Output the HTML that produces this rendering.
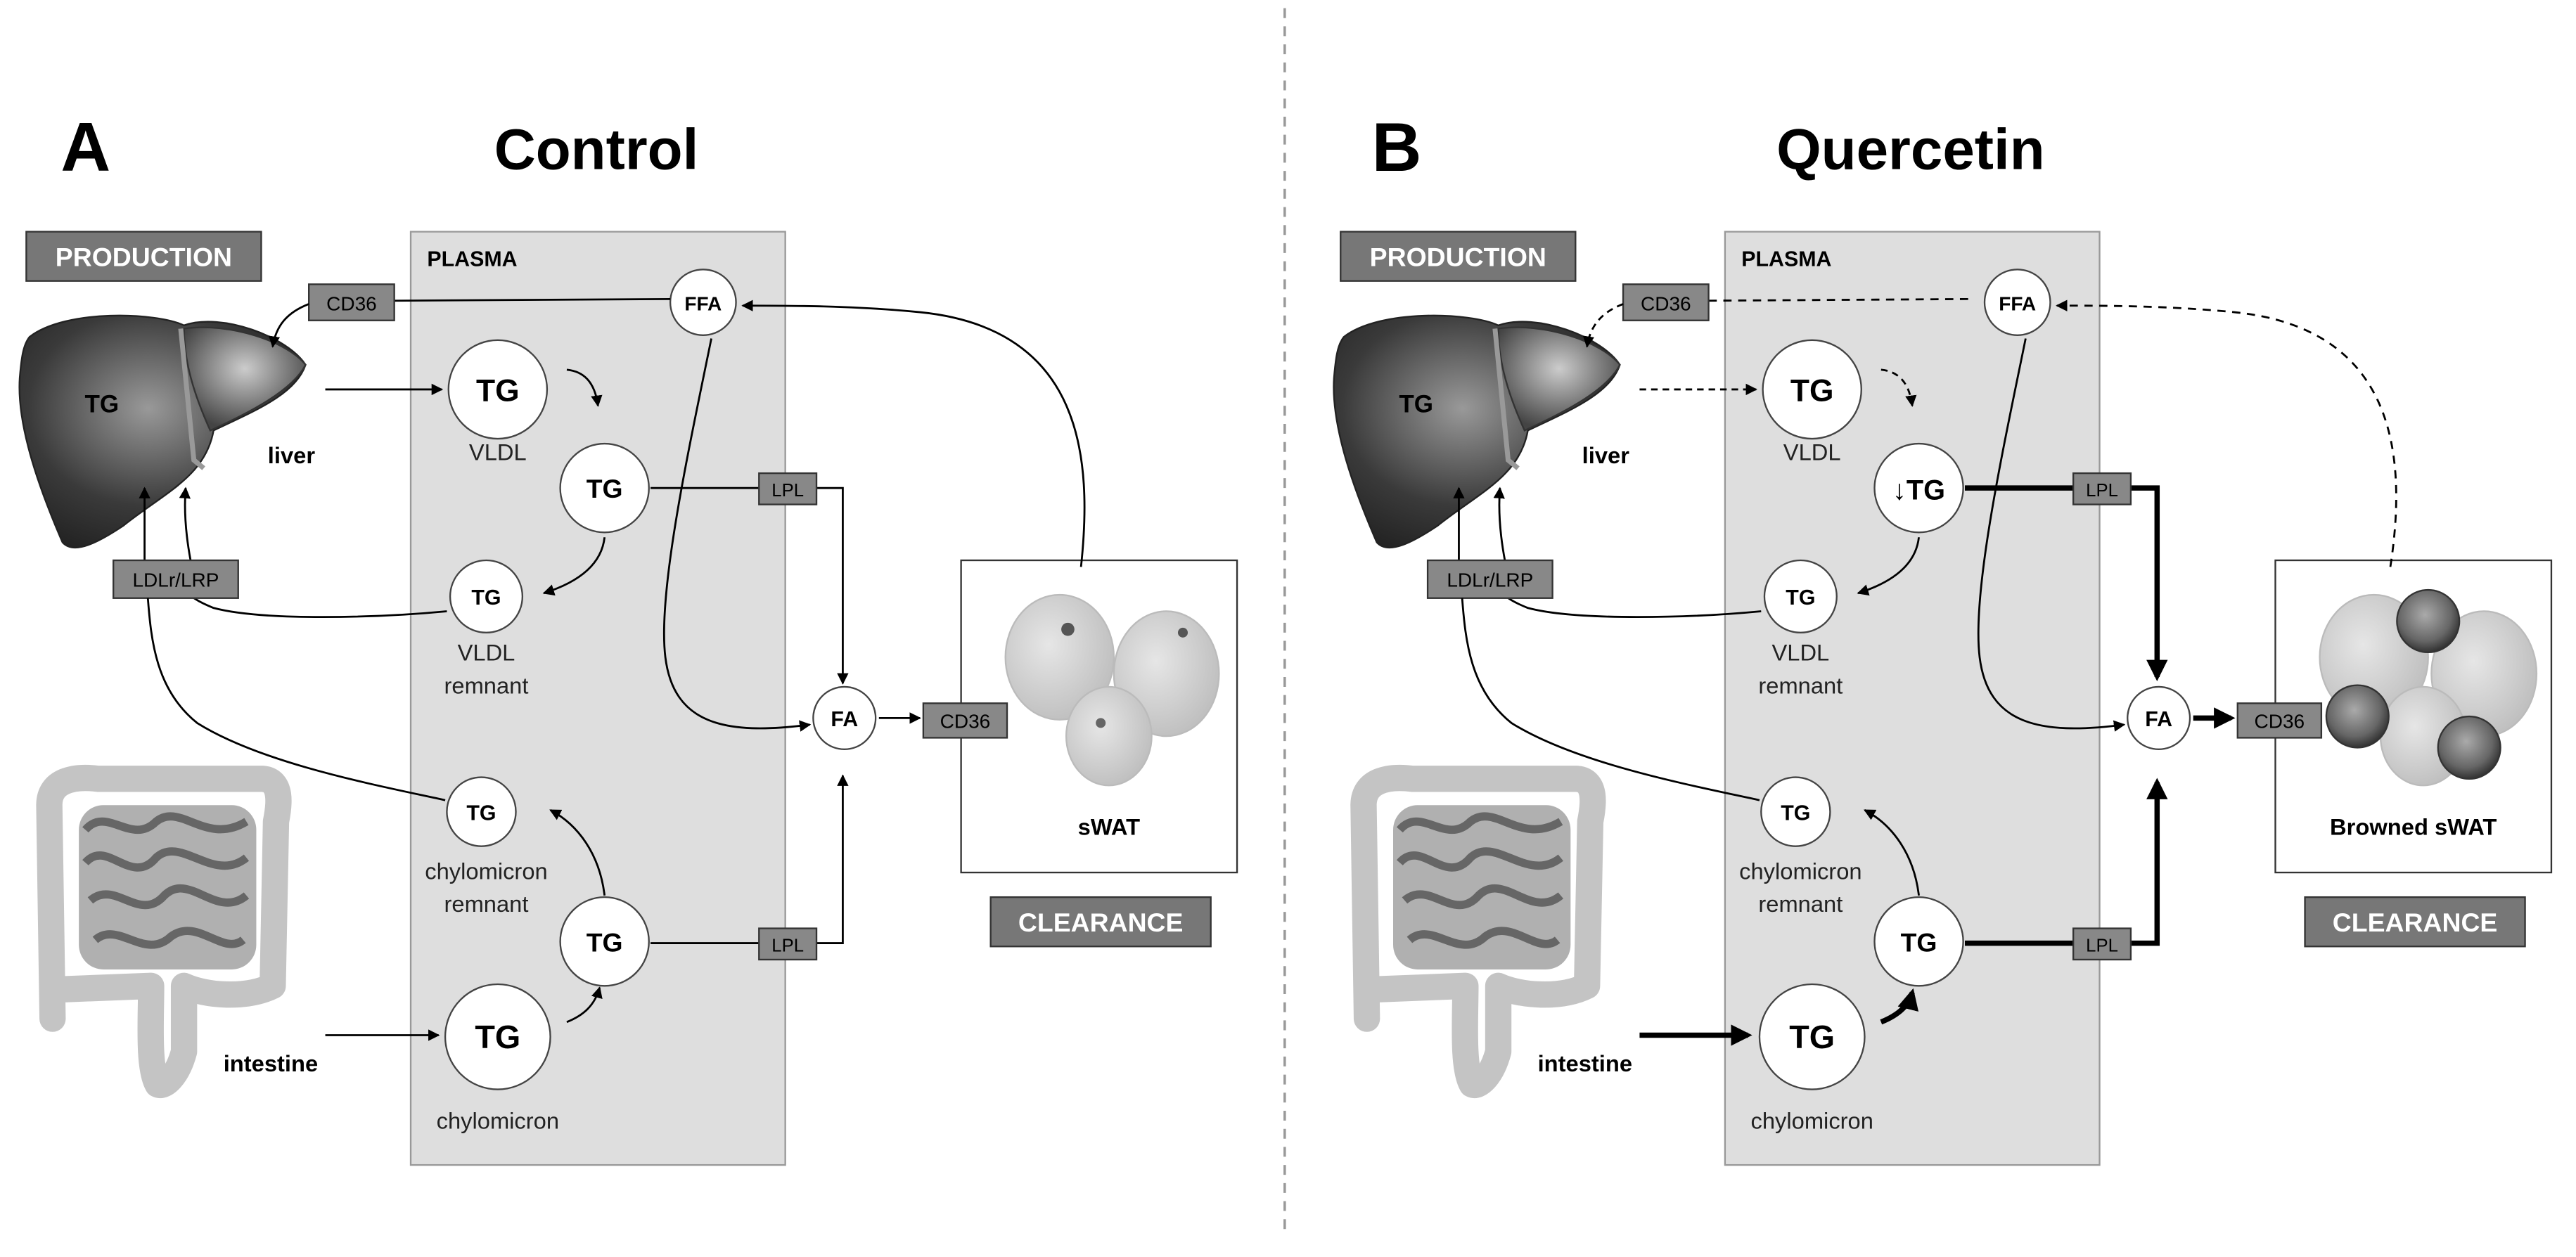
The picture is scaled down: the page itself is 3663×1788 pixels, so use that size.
<!DOCTYPE html>
<html><head><meta charset="utf-8"><style>
html,body{margin:0;padding:0;background:#fff;}
svg{display:block;}
text{font-family:"Liberation Sans",sans-serif;}
</style></head><body>
<svg width="3663" height="1788" viewBox="0 0 1568 765" preserveAspectRatio="none" xmlns="http://www.w3.org/2000/svg">
<defs>
<marker id="ah" viewBox="0 0 10 10" refX="9" refY="5" markerWidth="7" markerHeight="7" orient="auto-start-reverse" markerUnits="userSpaceOnUse"><path d="M0,0 L10,5 L0,10 z" fill="#000"/></marker>
<marker id="ahb" viewBox="0 0 10 10" refX="8" refY="5" markerWidth="13" markerHeight="13" orient="auto" markerUnits="userSpaceOnUse"><path d="M0,0 L10,5 L0,10 z" fill="#000"/></marker>
<radialGradient id="lv" cx="0.45" cy="0.4" r="0.7"><stop offset="0" stop-color="#999"/><stop offset="0.6" stop-color="#3a3a3a"/><stop offset="1" stop-color="#1e1e1e"/></radialGradient>
<radialGradient id="lv2" cx="0.5" cy="0.4" r="0.6"><stop offset="0" stop-color="#ccc"/><stop offset="1" stop-color="#444"/></radialGradient>
<radialGradient id="cell" cx="0.4" cy="0.4" r="0.7"><stop offset="0" stop-color="#e6e6e6"/><stop offset="1" stop-color="#bbb"/></radialGradient>
<radialGradient id="bcell" cx="0.45" cy="0.4" r="0.6"><stop offset="0" stop-color="#aaa"/><stop offset="0.7" stop-color="#666"/><stop offset="1" stop-color="#333"/></radialGradient>
</defs>

<line x1="782" y1="5" x2="782" y2="752" stroke="#999" stroke-width="1.5" stroke-dasharray="6,5"/>

<g id="A">
<text x="37" y="104" font-size="42" font-weight="bold">A</text>
<text x="363" y="103" font-size="35" font-weight="bold" text-anchor="middle">Control</text>
<rect x="16" y="141" width="143" height="30" fill="#777" stroke="#333"/>
<text x="87.5" y="162" font-size="16" font-weight="bold" fill="#fff" text-anchor="middle">PRODUCTION</text>
<rect x="250" y="141" width="228" height="568" fill="#dedede" stroke="#999"/>
<text x="260" y="162" font-size="13" font-weight="bold">PLASMA</text>

<path d="M18,205 C40,188 95,190 112,198 C135,190 175,205 186,222 C180,240 155,250 130,262 C125,290 100,300 75,320 C60,330 45,338 38,330 C25,300 10,260 12,230 C13,218 14,210 18,205 Z" fill="url(#lv)" stroke="#222"/>
<path d="M112,200 C140,196 175,208 186,222 C178,238 150,252 128,262 C118,240 112,220 112,200 Z" fill="url(#lv2)" stroke="#333"/>
<path d="M110,200 L118,280 L124,285" stroke="#999" stroke-width="3" fill="none"/>
<text x="62" y="251" font-size="15" font-weight="bold" text-anchor="middle">TG</text>
<text x="163" y="282" font-size="14" font-weight="bold">liver</text>

<path d="M32,620 L30,490 C30,475 45,472 60,474 L160,474 C172,475 170,490 168,500 L166,600 C150,608 125,606 112,600 L112,640 C108,655 100,662 96,660 C90,650 92,620 92,600 L40,602" stroke="#c4c4c4" stroke-width="16" fill="none" stroke-linecap="round" stroke-linejoin="round"/>
<rect x="48" y="490" width="108" height="100" rx="15" fill="#b0b0b0"/>
<path d="M52,505 C65,490 80,515 95,500 C110,488 125,515 150,500 M52,525 C65,510 80,540 95,522 C110,508 130,538 150,522 M55,548 C70,535 85,562 100,545 C115,530 132,560 150,545 M58,572 C72,560 88,585 104,570 C120,558 136,582 148,572" stroke="#666" stroke-width="5" fill="none"/>
<text x="136" y="652" font-size="14" font-weight="bold">intestine</text>

<circle cx="428" cy="184" r="20" fill="#fff" stroke="#444"/>
<text x="428" y="189" font-size="12" font-weight="bold" text-anchor="middle">FFA</text>
<line x1="408" y1="182" x2="240" y2="183" stroke="#000" stroke-width="1.2"/>
<rect x="188" y="173" width="52" height="22" fill="#888" stroke="#333"/>
<text x="214" y="189" font-size="12" text-anchor="middle">CD36</text>
<path d="M188,185 C175,190 168,198 166,211" stroke="#000" stroke-width="1.2" fill="none" marker-end="url(#ah)"/>

<line x1="198" y1="237" x2="269" y2="237" stroke="#000" stroke-width="1.2" marker-end="url(#ah)"/>
<circle cx="303" cy="237" r="30" fill="#fff" stroke="#444"/>
<text x="303" y="244" font-size="19" font-weight="bold" text-anchor="middle">TG</text>
<text x="303" y="280" font-size="14" text-anchor="middle" fill="#222">VLDL</text>
<path d="M345,225 C355,226 362,232 364,247" stroke="#000" stroke-width="1.2" fill="none" marker-end="url(#ah)"/>
<circle cx="368" cy="297" r="27" fill="#fff" stroke="#444"/>
<text x="368" y="303" font-size="16" font-weight="bold" text-anchor="middle">TG</text>
<path d="M368,327 C366,345 350,355 331,361" stroke="#000" stroke-width="1.2" fill="none" marker-end="url(#ah)"/>
<circle cx="296" cy="363" r="22" fill="#fff" stroke="#444"/>
<text x="296" y="368" font-size="13" font-weight="bold" text-anchor="middle">TG</text>
<text x="296" y="402" font-size="14" text-anchor="middle" fill="#222">VLDL</text>
<text x="296" y="422" font-size="14" text-anchor="middle" fill="#222">remnant</text>

<path d="M272,372 C230,376 160,378 130,370 C120,366 116,363 114,360" stroke="#000" stroke-width="1.2" fill="none"/>
<path d="M88,341 L88,297" stroke="#000" stroke-width="1.2" fill="none" marker-end="url(#ah)"/>
<path d="M116,341 C113,325 112,310 113,297" stroke="#000" stroke-width="1.2" fill="none" marker-end="url(#ah)"/>
<rect x="69" y="341" width="76" height="23" fill="#888" stroke="#333"/>
<text x="107" y="357" font-size="12" text-anchor="middle">LDLr/LRP</text>
<path d="M271,487 C230,478 160,465 120,440 C95,420 92,390 90,364" stroke="#000" stroke-width="1.2" fill="none"/>

<path d="M433,206 C420,270 400,360 405,400 C410,440 440,448 493,441" stroke="#000" stroke-width="1.2" fill="none" marker-end="url(#ah)"/>

<path d="M396,297 L513,297 L513,416" stroke="#000" stroke-width="1.2" fill="none" marker-end="url(#ah)"/>
<rect x="462" y="288" width="35" height="19" fill="#888" stroke="#333"/>
<text x="479.5" y="302" font-size="11" text-anchor="middle">LPL</text>

<circle cx="514" cy="437" r="19" fill="#fff" stroke="#444"/>
<text x="514" y="442" font-size="13" font-weight="bold" text-anchor="middle">FA</text>
<line x1="535" y1="437" x2="560" y2="437" stroke="#000" stroke-width="1.2" marker-end="url(#ah)"/>

<rect x="585" y="341" width="168" height="190" fill="#fff" stroke="#333"/>
<rect x="562" y="428" width="51" height="21" fill="#888" stroke="#333"/>
<text x="587.5" y="443" font-size="12" text-anchor="middle">CD36</text>
<ellipse cx="645" cy="400" rx="33" ry="38" fill="url(#cell)" stroke="#bbb"/>
<ellipse cx="710" cy="410" rx="32" ry="38" fill="url(#cell)" stroke="#bbb"/>
<ellipse cx="675" cy="448" rx="26" ry="30" fill="url(#cell)" stroke="#bbb"/>
<circle cx="650" cy="383" r="4" fill="#555"/><circle cx="720" cy="385" r="3" fill="#555"/><circle cx="670" cy="440" r="3" fill="#666"/>
<text x="675" y="508" font-size="14" font-weight="bold" text-anchor="middle">sWAT</text>
<path d="M658,345 C665,280 660,200 560,190 C520,186 480,186 452,186" stroke="#000" stroke-width="1.2" fill="none" marker-end="url(#ah)"/>
<rect x="603" y="546" width="134" height="30" fill="#777" stroke="#333"/>
<text x="670" y="567" font-size="16" font-weight="bold" fill="#fff" text-anchor="middle">CLEARANCE</text>

<circle cx="293" cy="494" r="21" fill="#fff" stroke="#444"/>
<text x="293" y="499" font-size="13" font-weight="bold" text-anchor="middle">TG</text>
<text x="296" y="535" font-size="14" text-anchor="middle" fill="#222">chylomicron</text>
<text x="296" y="555" font-size="14" text-anchor="middle" fill="#222">remnant</text>
<path d="M368,545 C365,520 352,502 335,493" stroke="#000" stroke-width="1.2" fill="none" marker-end="url(#ah)"/>
<circle cx="368" cy="573" r="27" fill="#fff" stroke="#444"/>
<text x="368" y="579" font-size="16" font-weight="bold" text-anchor="middle">TG</text>
<path d="M396,574 L513,574 L513,472" stroke="#000" stroke-width="1.2" fill="none" marker-end="url(#ah)"/>
<rect x="462" y="565" width="35" height="19" fill="#888" stroke="#333"/>
<text x="479.5" y="579" font-size="11" text-anchor="middle">LPL</text>
<circle cx="303" cy="631" r="32" fill="#fff" stroke="#444"/>
<text x="303" y="638" font-size="20" font-weight="bold" text-anchor="middle">TG</text>
<text x="303" y="687" font-size="14" text-anchor="middle" fill="#222">chylomicron</text>
<path d="M345,622 C355,618 362,612 365,601" stroke="#000" stroke-width="1.2" fill="none" marker-end="url(#ah)"/>
<line x1="198" y1="630" x2="267" y2="630" stroke="#000" stroke-width="1.2" marker-end="url(#ah)"/>
</g>

<g transform="translate(800,0)">
<text x="35" y="104" font-size="42" font-weight="bold">B</text>
<text x="363" y="103" font-size="35" font-weight="bold" text-anchor="middle">Quercetin</text>
<rect x="16" y="141" width="143" height="30" fill="#777" stroke="#333"/>
<text x="87.5" y="162" font-size="16" font-weight="bold" fill="#fff" text-anchor="middle">PRODUCTION</text>
<rect x="250" y="141" width="228" height="568" fill="#dedede" stroke="#999"/>
<text x="260" y="162" font-size="13" font-weight="bold">PLASMA</text>

<path d="M18,205 C40,188 95,190 112,198 C135,190 175,205 186,222 C180,240 155,250 130,262 C125,290 100,300 75,320 C60,330 45,338 38,330 C25,300 10,260 12,230 C13,218 14,210 18,205 Z" fill="url(#lv)" stroke="#222"/>
<path d="M112,200 C140,196 175,208 186,222 C178,238 150,252 128,262 C118,240 112,220 112,200 Z" fill="url(#lv2)" stroke="#333"/>
<path d="M110,200 L118,280 L124,285" stroke="#999" stroke-width="3" fill="none"/>
<text x="62" y="251" font-size="15" font-weight="bold" text-anchor="middle">TG</text>
<text x="163" y="282" font-size="14" font-weight="bold">liver</text>

<path d="M32,620 L30,490 C30,475 45,472 60,474 L160,474 C172,475 170,490 168,500 L166,600 C150,608 125,606 112,600 L112,640 C108,655 100,662 96,660 C90,650 92,620 92,600 L40,602" stroke="#c4c4c4" stroke-width="16" fill="none" stroke-linecap="round" stroke-linejoin="round"/>
<rect x="48" y="490" width="108" height="100" rx="15" fill="#b0b0b0"/>
<path d="M52,505 C65,490 80,515 95,500 C110,488 125,515 150,500 M52,525 C65,510 80,540 95,522 C110,508 130,538 150,522 M55,548 C70,535 85,562 100,545 C115,530 132,560 150,545 M58,572 C72,560 88,585 104,570 C120,558 136,582 148,572" stroke="#666" stroke-width="5" fill="none"/>
<text x="136" y="652" font-size="14" font-weight="bold">intestine</text>

<circle cx="428" cy="184" r="20" fill="#fff" stroke="#444"/>
<text x="428" y="189" font-size="12" font-weight="bold" text-anchor="middle">FFA</text>
<line x1="398" y1="182" x2="240" y2="183" stroke="#000" stroke-width="1.2" stroke-dasharray="5,4"/>
<rect x="188" y="173" width="52" height="22" fill="#888" stroke="#333"/>
<text x="214" y="189" font-size="12" text-anchor="middle">CD36</text>
<path d="M188,185 C175,190 168,198 166,211" stroke="#000" stroke-width="1.2" fill="none" stroke-dasharray="4,3" marker-end="url(#ah)"/>

<line x1="198" y1="237" x2="269" y2="237" stroke="#000" stroke-width="1.2" stroke-dasharray="4,3" marker-end="url(#ah)"/>
<circle cx="303" cy="237" r="30" fill="#fff" stroke="#444"/>
<text x="303" y="244" font-size="19" font-weight="bold" text-anchor="middle">TG</text>
<text x="303" y="280" font-size="14" text-anchor="middle" fill="#222">VLDL</text>
<path d="M345,225 C355,226 362,232 364,247" stroke="#000" stroke-width="1.2" fill="none" stroke-dasharray="4,3" marker-end="url(#ah)"/>
<circle cx="368" cy="297" r="27" fill="#fff" stroke="#444"/>
<text x="368" y="304" font-size="17" font-weight="bold" text-anchor="middle">↓TG</text>
<path d="M368,327 C366,345 350,355 331,361" stroke="#000" stroke-width="1.2" fill="none" marker-end="url(#ah)"/>
<circle cx="296" cy="363" r="22" fill="#fff" stroke="#444"/>
<text x="296" y="368" font-size="13" font-weight="bold" text-anchor="middle">TG</text>
<text x="296" y="402" font-size="14" text-anchor="middle" fill="#222">VLDL</text>
<text x="296" y="422" font-size="14" text-anchor="middle" fill="#222">remnant</text>

<path d="M272,372 C230,376 160,378 130,370 C120,366 116,363 114,360" stroke="#000" stroke-width="1.2" fill="none"/>
<path d="M88,341 L88,297" stroke="#000" stroke-width="1.2" fill="none" marker-end="url(#ah)"/>
<path d="M116,341 C113,325 112,310 113,297" stroke="#000" stroke-width="1.2" fill="none" marker-end="url(#ah)"/>
<rect x="69" y="341" width="76" height="23" fill="#888" stroke="#333"/>
<text x="107" y="357" font-size="12" text-anchor="middle">LDLr/LRP</text>
<path d="M271,487 C230,478 160,465 120,440 C95,420 92,390 90,364" stroke="#000" stroke-width="1.2" fill="none"/>

<path d="M433,206 C420,270 400,360 405,400 C410,440 440,448 493,441" stroke="#000" stroke-width="1.2" fill="none" marker-end="url(#ah)"/>

<path d="M396,297 L513,297 L513,412" stroke="#000" stroke-width="3.2" fill="none" marker-end="url(#ahb)"/>
<rect x="462" y="288" width="35" height="19" fill="#888" stroke="#333"/>
<text x="479.5" y="302" font-size="11" text-anchor="middle">LPL</text>

<circle cx="514" cy="437" r="19" fill="#fff" stroke="#444"/>
<text x="514" y="442" font-size="13" font-weight="bold" text-anchor="middle">FA</text>
<line x1="535" y1="437" x2="558" y2="437" stroke="#000" stroke-width="3.2" marker-end="url(#ahb)"/>

<rect x="585" y="341" width="168" height="190" fill="#fff" stroke="#333"/>
<ellipse cx="645" cy="400" rx="33" ry="38" fill="url(#cell)" stroke="#bbb"/>
<ellipse cx="712" cy="410" rx="32" ry="38" fill="url(#cell)" stroke="#bbb"/>
<ellipse cx="675" cy="448" rx="26" ry="30" fill="url(#cell)" stroke="#bbb"/>
<circle cx="678" cy="378" r="19" fill="url(#bcell)" stroke="#333"/>
<circle cx="635" cy="436" r="19" fill="url(#bcell)" stroke="#333"/>
<circle cx="703" cy="455" r="19" fill="url(#bcell)" stroke="#333"/>
<rect x="562" y="428" width="51" height="21" fill="#888" stroke="#333"/>
<text x="587.5" y="443" font-size="12" text-anchor="middle">CD36</text>
<text x="669" y="508" font-size="14" font-weight="bold" text-anchor="middle">Browned sWAT</text>
<path d="M655,345 C665,280 660,200 560,190 C520,186 480,186 452,186" stroke="#000" stroke-width="1.2" fill="none" stroke-dasharray="5,4" marker-end="url(#ah)"/>
<rect x="603" y="546" width="134" height="30" fill="#777" stroke="#333"/>
<text x="670" y="567" font-size="16" font-weight="bold" fill="#fff" text-anchor="middle">CLEARANCE</text>

<circle cx="293" cy="494" r="21" fill="#fff" stroke="#444"/>
<text x="293" y="499" font-size="13" font-weight="bold" text-anchor="middle">TG</text>
<text x="296" y="535" font-size="14" text-anchor="middle" fill="#222">chylomicron</text>
<text x="296" y="555" font-size="14" text-anchor="middle" fill="#222">remnant</text>
<path d="M368,545 C365,520 352,502 335,493" stroke="#000" stroke-width="1.2" fill="none" marker-end="url(#ah)"/>
<circle cx="368" cy="573" r="27" fill="#fff" stroke="#444"/>
<text x="368" y="579" font-size="16" font-weight="bold" text-anchor="middle">TG</text>
<path d="M396,574 L513,574 L513,476" stroke="#000" stroke-width="3.2" fill="none" marker-end="url(#ahb)"/>
<rect x="462" y="565" width="35" height="19" fill="#888" stroke="#333"/>
<text x="479.5" y="579" font-size="11" text-anchor="middle">LPL</text>
<circle cx="303" cy="631" r="32" fill="#fff" stroke="#444"/>
<text x="303" y="638" font-size="20" font-weight="bold" text-anchor="middle">TG</text>
<text x="303" y="687" font-size="14" text-anchor="middle" fill="#222">chylomicron</text>
<path d="M345,622 C355,618 362,612 364,604" stroke="#000" stroke-width="3.2" fill="none" marker-end="url(#ahb)"/>
<line x1="198" y1="630" x2="264" y2="630" stroke="#000" stroke-width="3.2" marker-end="url(#ahb)"/>
</g>
</svg>
</body></html>
